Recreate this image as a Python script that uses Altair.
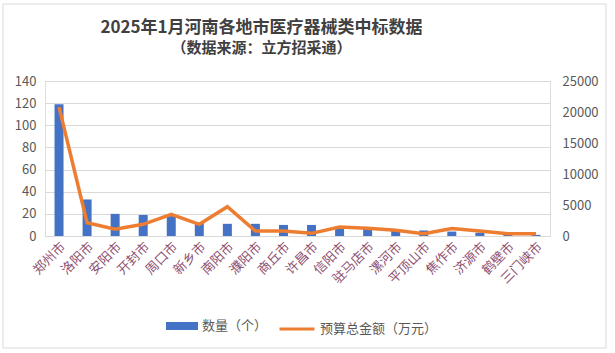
import altair as alt
import pandas as pd

cities = ["郑州市", "洛阳市", "安阳市", "开封市", "周口市", "新乡市", "南阳市", "濮阳市", "商丘市",
          "许昌市", "信阳市", "驻马店市", "漯河市", "平顶山市", "焦作市", "济源市", "鹤壁市", "三门峡市"]
counts = [119, 33, 20, 19, 18, 12, 11, 11, 10, 10, 8, 7, 5, 5, 4, 3, 2, 1]
amounts = [20800, 2150, 1100, 1880, 3490, 1880, 4730, 800, 800, 430, 1450, 1240, 920, 380, 1190, 800, 380, 380]

bar_name = "数量（个）"
line_name = "预算总金额（万元）"

df = pd.DataFrame({"city": cities, "count": counts, "amount": amounts})

FONT = "Noto Sans CJK SC"
GRID = "#d9d9d9"
TXT = "#595959"

xenc = alt.X("city:N", sort=cities, title=None,
             scale=alt.Scale(paddingInner=0.68, paddingOuter=0.34),
             axis=alt.Axis(labelAngle=-45, labelFontSize=13, labelColor="#8E5070",
                           labelFont=FONT, domainColor=GRID, ticks=False, labelPadding=4,
                           grid=False))

bars = alt.Chart(df).mark_bar(size=9).transform_calculate(s=f"'{bar_name}'").encode(
    x=xenc,
    y=alt.Y("count:Q", title=None, scale=alt.Scale(domain=[0, 140]),
            axis=alt.Axis(values=[0, 20, 40, 60, 80, 100, 120, 140], domain=False, ticks=False,
                          gridColor=GRID, labelFontSize=13, labelColor=TXT, labelFont=FONT,
                          labelPadding=9)),
    color=alt.Color("s:N", scale=alt.Scale(domain=[bar_name], range=["#4472C4"]),
                    legend=alt.Legend(title=None, orient="none", legendX=121, legendY=229,
                                      symbolType="M-1,-0.25H1V0.25H-1Z", symbolSize=1024,
                                      symbolStrokeWidth=0, labelFontSize=13, labelColor=TXT,
                                      labelFont=FONT, labelOffset=4)),
)

line = alt.Chart(df).mark_line(strokeWidth=3.5, color="#ED7D31").transform_calculate(s=f"'{line_name}'").encode(
    x=alt.X("city:N", sort=cities),
    y=alt.Y("amount:Q", title=None, scale=alt.Scale(domain=[0, 25000]),
            axis=alt.Axis(orient="right", values=[0, 5000, 10000, 15000, 20000, 25000],
                          domain=False, ticks=False, grid=False, labelFontSize=13,
                          labelColor=TXT, labelFont=FONT, labelPadding=12, format="d")),
    stroke=alt.Stroke("s:N", scale=alt.Scale(domain=[line_name], range=["#ED7D31"]),
                      legend=alt.Legend(title=None, orient="none", legendX=233, legendY=229,
                                        symbolType="stroke", symbolSize=1225, symbolStrokeWidth=3,
                                        labelFontSize=13, labelColor=TXT, labelFont=FONT,
                                        labelOffset=4)),
)

frame = alt.Chart(alt.Data(values=[{}])).mark_rect(fill=None, stroke="#d9d9d9", strokeWidth=1).encode(
    x=alt.value(-42), x2=alt.value(561), y=alt.value(-77), y2=alt.value(267)
)

chart = alt.layer(bars, line, frame).resolve_scale(y="independent", color="independent").properties(
    width=505, height=155,
    autosize=alt.AutoSizeParams(type="none"),
    padding={"left": 45, "top": 81, "right": 65, "bottom": 117},
    title=alt.TitleParams(text="2025年1月河南各地市医疗器械类中标数据",
                          subtitle="（数据来源：立方招采通）",
                          anchor="middle", frame="group", dx=-36, offset=-53,
                          font=FONT, fontSize=17, fontWeight="bold", color="#404040",
                          subtitleFont=FONT, subtitleFontSize=15, subtitleFontWeight="bold",
                          subtitleColor="#404040", subtitlePadding=4),
).configure_view(stroke=None).configure(background="white")

chart.save("out.html", embed_options={"renderer": "svg", "actions": False})
